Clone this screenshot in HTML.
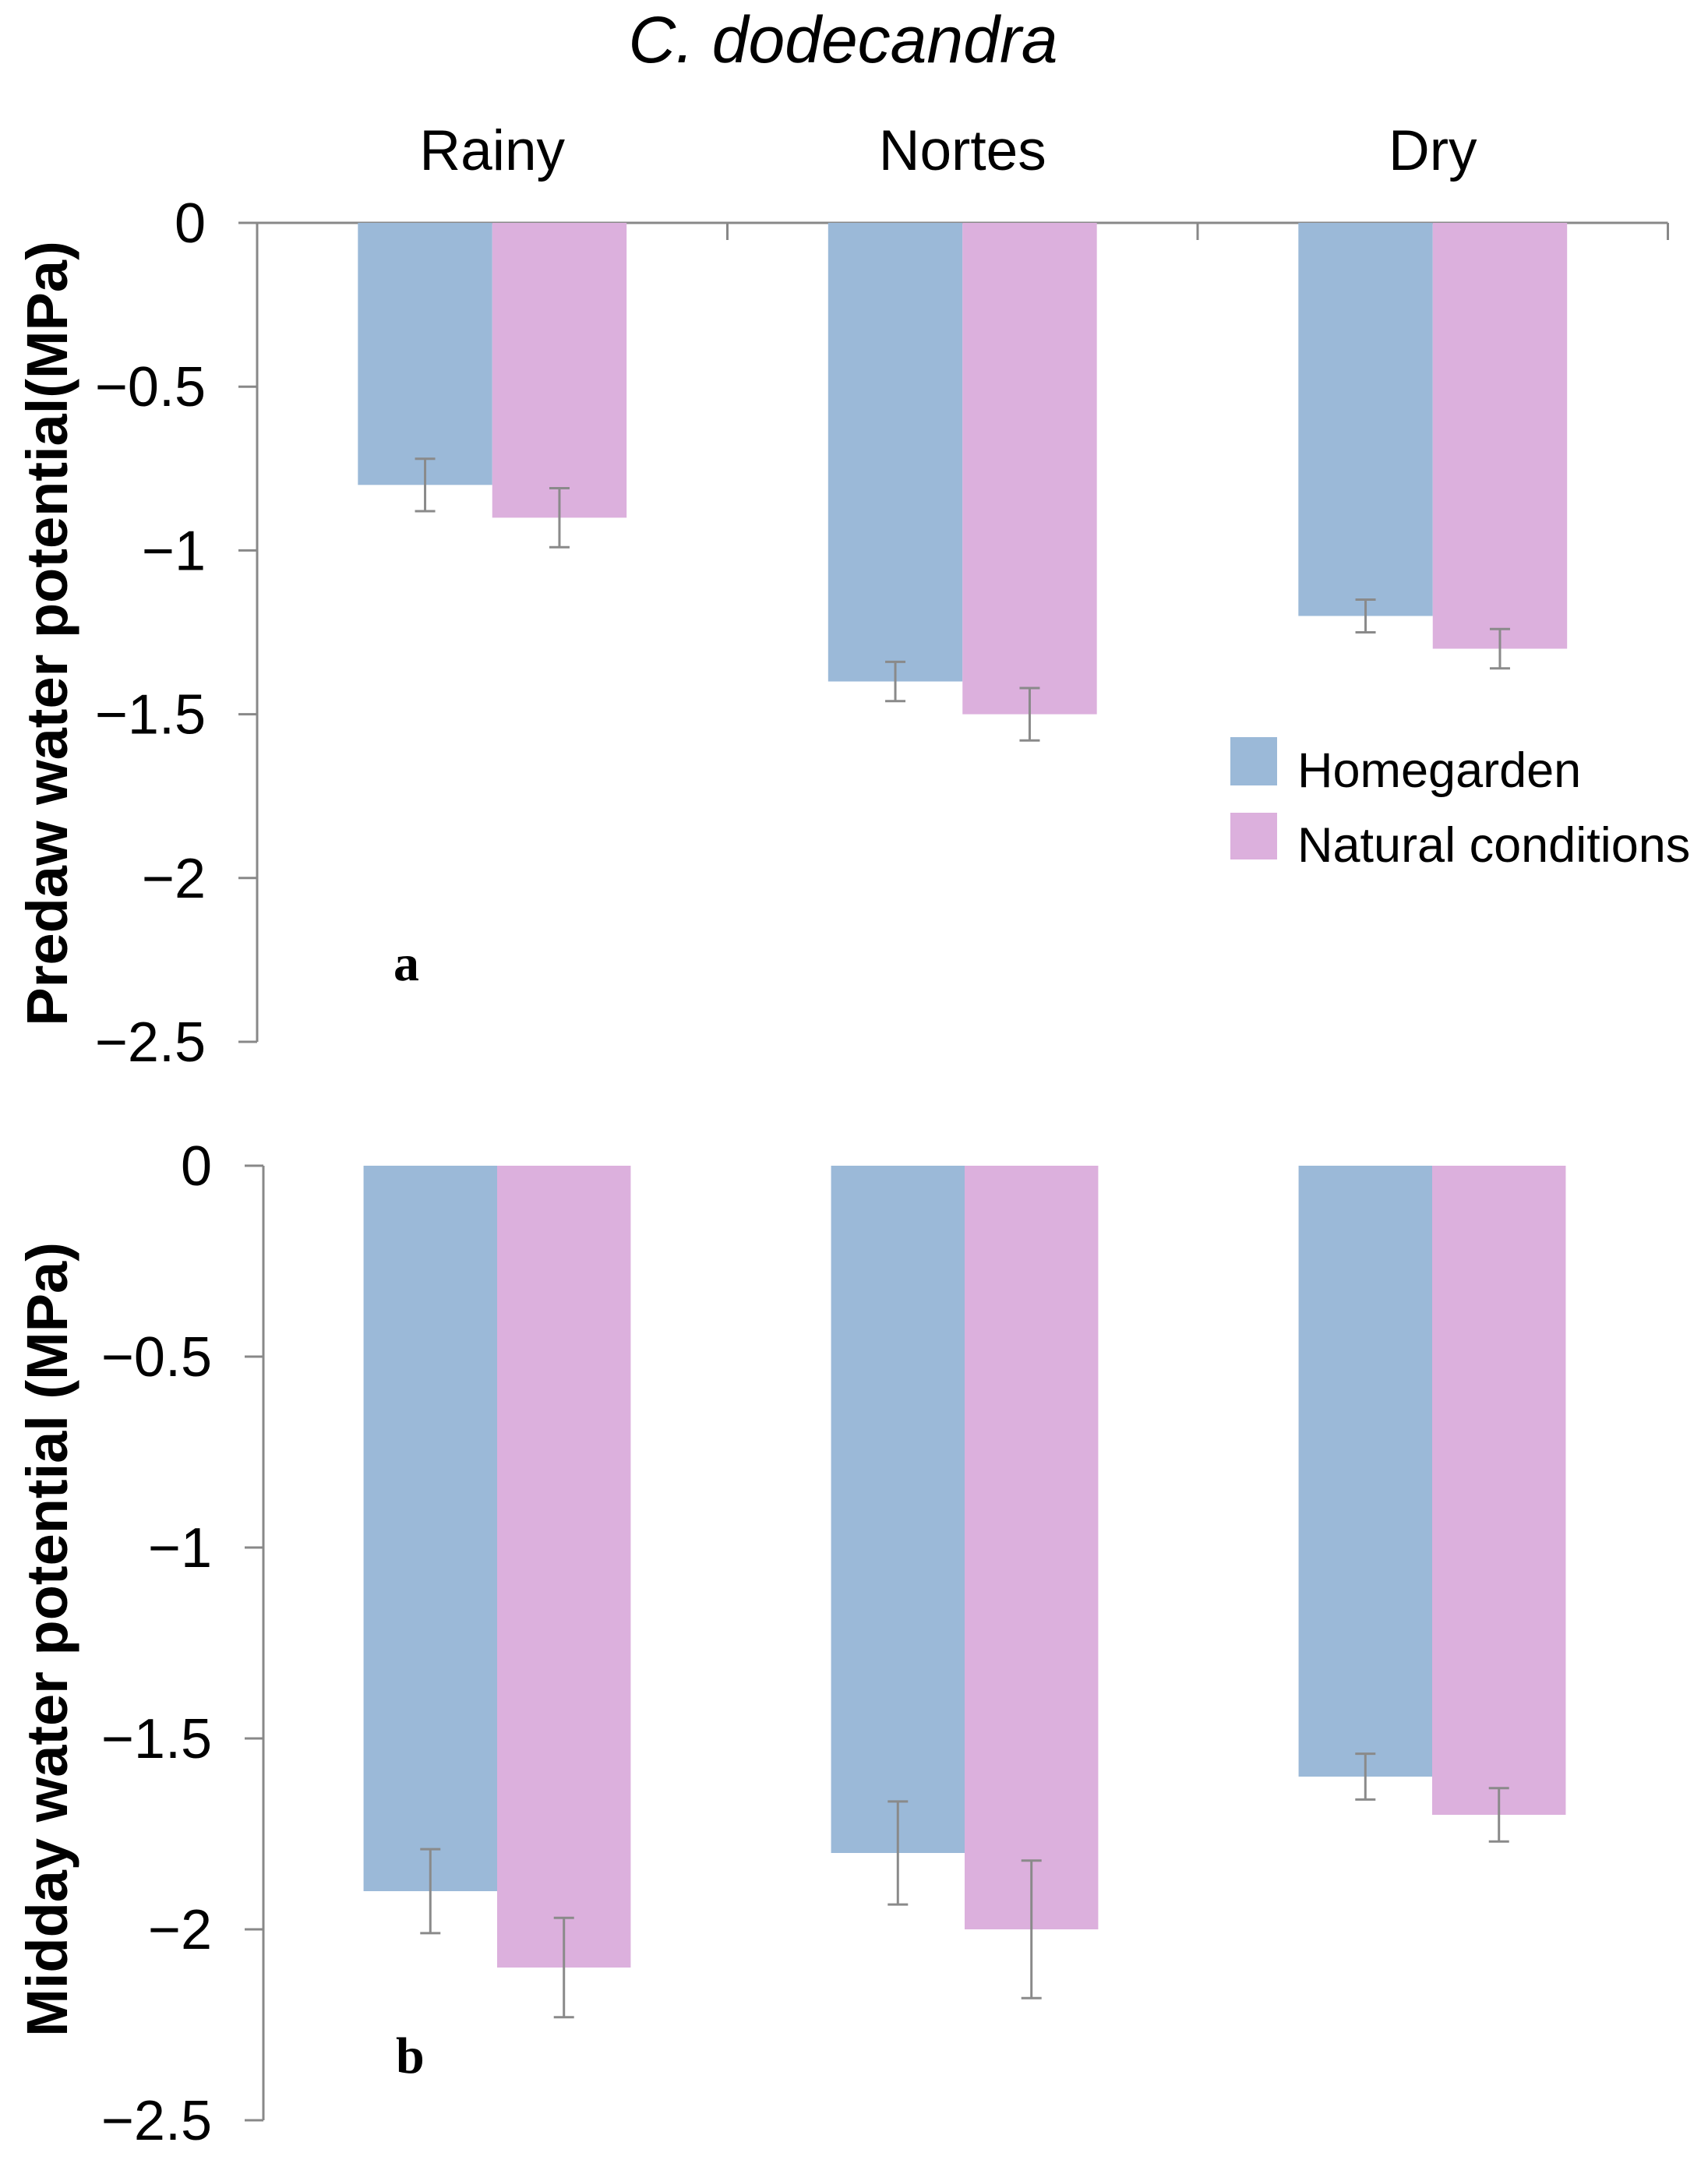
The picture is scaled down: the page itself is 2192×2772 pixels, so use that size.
<!DOCTYPE html>
<html><head><meta charset="utf-8"><style>
html,body{margin:0;padding:0;background:#fff;}
svg{display:block;}
text{font-family:"Liberation Sans",sans-serif;}
</style></head><body>
<svg id="chart" width="2192" height="2772" viewBox="0 0 2192 2772" xmlns="http://www.w3.org/2000/svg">
<text x="1082" y="80" font-size="84" font-style="italic" text-anchor="middle" fill="#000">C. dodecandra</text>
<g id="panelA"></g>
<g id="panelB"></g>
<g>
<rect x="1579" y="946" width="60" height="62" fill="#9BB9D8"/>
<text x="1665" y="1010" font-size="63" fill="#000">Homegarden</text>
<rect x="1579" y="1043" width="60" height="60" fill="#DCB0DD"/>
<text x="1665" y="1106" font-size="63" fill="#000">Natural conditions</text>
</g>
</svg>
<script>
const categories = ["Rainy", "Nortes", "Dry"];
const tickValues = [0, -0.5, -1, -1.5, -2, -2.5];
const tickLabels = ["0", "\u22120.5", "\u22121", "\u22121.5", "\u22122", "\u22122.5"];
const predawnHome = [-0.8, -1.4, -1.2];
const predawnNatural = [-0.9, -1.5, -1.3];
const predawnHomeErr = [0.08, 0.06, 0.05];
const predawnNaturalErr = [0.09, 0.08, 0.06];
const middayHome = [-1.9, -1.8, -1.6];
const middayNatural = [-2.1, -2.0, -1.7];
const middayHomeErr = [0.11, 0.135, 0.06];
const middayNaturalErr = [0.13, 0.18, 0.07];

const NS = "http://www.w3.org/2000/svg";
function mk(parent, tag, attrs){
  const e = document.createElementNS(NS, tag);
  for (const k in attrs) e.setAttribute(k, attrs[k]);
  parent.appendChild(e);
  return e;
}
function drawPanel(g, cfg){
  const y = v => cfg.y0 + (v / -2.5) * (cfg.yMin - cfg.y0);
  const bw = cfg.catW / 3.5;
  const xc = i => cfg.x0 + cfg.catW * (i + 0.5);
  const ax = mk(g, "line", {x1: cfg.x0, y1: cfg.y0, x2: cfg.x0, y2: cfg.yMin, stroke: "#888", "stroke-width": 3});
  
  
  tickValues.forEach((v, i) => {
    const t = mk(g, "line", {x1: cfg.x0 - 24, y1: y(v), x2: cfg.x0, y2: y(v), stroke: "#888", "stroke-width": 3});
    
    
    const l = mk(g, "text", {x: cfg.x0 - 66, y: y(v) + 25, "font-size": 72, "text-anchor": "end", fill: "#000"});
    l.textContent = tickLabels[i];
    
    
  });
  if (cfg.showX) {
    const xl = mk(g, "line", {x1: cfg.x0, y1: cfg.y0, x2: cfg.x0 + cfg.catW * 3, y2: cfg.y0, stroke: "#888", "stroke-width": 3});
    
    
    for (let i = 1; i <= 3; i++) {
      const t = mk(g, "line", {x1: cfg.x0 + cfg.catW * i, y1: cfg.y0, x2: cfg.x0 + cfg.catW * i, y2: cfg.y0 + 22, stroke: "#888", "stroke-width": 3});
      
      
    }
    categories.forEach((c, i) => {
      const l = mk(g, "text", {x: xc(i), y: 218, "font-size": 73, "text-anchor": "middle", fill: "#000"});
      l.textContent = c;
      
      
    });
  }
  const series = [[cfg.home, cfg.homeErr, "#9BB9D8", -1], [cfg.nat, cfg.natErr, "#DCB0DD", 0]];
  series.forEach(([vals, errs, col, off], si) => {
    vals.forEach((v, i) => {
      const x = xc(i) + off * bw;
      const r = mk(g, "rect", {x: x, y: y(0), width: bw, height: y(v) - y(0), fill: col});
      
      
    });
  });
  series.forEach(([vals, errs, col, off], si) => {
    vals.forEach((v, i) => {
      const cx = xc(i) + off * bw + bw / 2;
      const eg = mk(g, "g", {stroke: "#8a8a8a", "stroke-width": 3});
      
      
      mk(eg, "line", {x1: cx, y1: y(v + errs[i]), x2: cx, y2: y(v - errs[i])});
      mk(eg, "line", {x1: cx - 13, y1: y(v + errs[i]), x2: cx + 13, y2: y(v + errs[i])});
      mk(eg, "line", {x1: cx - 13, y1: y(v - errs[i]), x2: cx + 13, y2: y(v - errs[i])});
    });
  });
  const tt = mk(g, "text", {x: 0, y: 0, "font-size": cfg.titleSize, "font-weight": "bold", "text-anchor": "middle", fill: "#000", transform: `translate(${cfg.titleX},${cfg.titleY}) rotate(-90)`});
  tt.textContent = cfg.title;
  
  
  const pl = mk(g, "text", {x: cfg.letterX, y: cfg.letterY, "font-size": 66, "font-weight": "bold", fill: "#000", style: "font-family:'Liberation Serif',serif"});
  pl.textContent = cfg.letter;
  
  
}
drawPanel(document.getElementById("panelA"), {x0: 330, y0: 286, yMin: 1337, catW: 603.5, showX: true,
  home: predawnHome, nat: predawnNatural, homeErr: predawnHomeErr, natErr: predawnNaturalErr,
  title: "Predaw  water potential(MPa)", titleSize: 74, titleX: 86, titleY: 813, letter: "a", letterX: 505, letterY: 1258});
drawPanel(document.getElementById("panelB"), {x0: 338, y0: 1496, yMin: 2721, catW: 600, showX: false,
  home: middayHome, nat: middayNatural, homeErr: middayHomeErr, natErr: middayNaturalErr,
  title: "Midday water potential (MPa)", titleSize: 74, titleX: 86, titleY: 2104, letter: "b", letterX: 508, letterY: 2660});
</script>
</body></html>
